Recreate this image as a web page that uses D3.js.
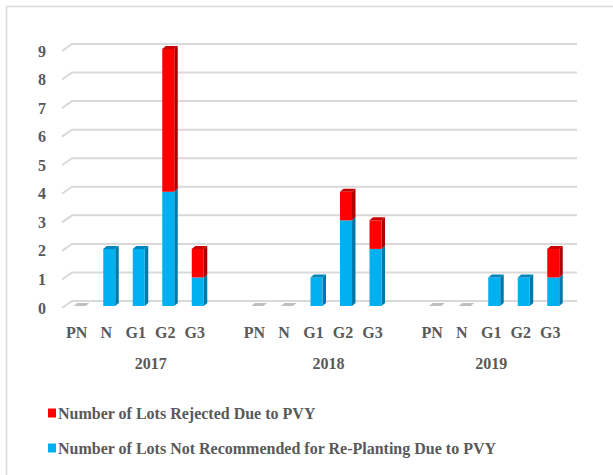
<!DOCTYPE html>
<html>
<head>
<meta charset="utf-8">
<script src="https://cdn.jsdelivr.net/npm/d3@7"></script>
<style>
  body { margin: 0; background: #fff; }
  text { font-family: "Liberation Serif", "Times New Roman", serif; font-weight: bold; fill: #595959; }
</style>
</head>
<body>
<svg id="svg"></svg>
<script>
const width = 613, height = 475;

// data
const years = ["2017", "2018", "2019"];
const grades = ["PN", "N", "G1", "G2", "G3"];
const notRecommended = [
  [0, 2, 2, 4, 1],
  [0, 0, 1, 3, 2],
  [0, 0, 1, 1, 1]
];
const rejected = [
  [0, 0, 0, 5, 1],
  [0, 0, 0, 1, 1],
  [0, 0, 0, 0, 1]
];
const yTicks = [0, 1, 2, 3, 4, 5, 6, 7, 8, 9];
const seriesNames = ["Number of Lots Rejected Due to PVY", "Number of Lots Not Recommended for Re-Planting Due to PVY"];

const blue = {front: "#00B0F0", side: "#0079A8", top: "#0086BA"};
const red = {front: "#FF0000", side: "#B00000", top: "#C80000"};

// 3d offsets
const floorDx = 10, floorDy = -7;   // depth of the floor
const barOffX = 3, barOffY = -2;    // bar front relative to floor front
const barDx = 3.5, barDy = -3;      // bar own depth
const barW = 12;

const svg = d3.select("#svg").attr("width", width).attr("height", height);

// frame
svg.append("rect")
  .attr("x", 6.5).attr("y", 6.5)
  .attr("width", 640).attr("height", 500)
  .attr("fill", "none").attr("stroke", "#D9D9D9").attr("stroke-width", 1.5);

const x0 = d3.scaleBand().domain(years).range([62, 565]).paddingInner(0.17).paddingOuter(0);
const x1 = d3.scaleBand().domain(grades).range([0, x0.bandwidth()]);
const y = d3.scaleLinear().domain([0, 9]).range([308, 51]);

// gridlines (front diagonal + back line)
const grid = svg.append("g");
yTicks.forEach(v => {
  grid.append("path")
    .attr("d", `M62,${y(v)} L${62 + floorDx},${y(v) + floorDy} L577,${y(v) + floorDy}`)
    .attr("fill", "none")
    .attr("stroke", "#D9D9D9")
    .attr("stroke-width", 2);
});

// y labels
svg.append("g").selectAll("text")
  .data(yTicks)
  .join("text")
  .attr("x", 46)
  .attr("y", d => y(d))
  .attr("dy", "0.35em")
  .attr("text-anchor", "end")
  .attr("font-size", 16)
  .text(d => d);

// bars
const bars = [];
years.forEach((yr, i) => {
  grades.forEach((g, j) => {
    const cx = x0(yr) + x1(g) + x1.bandwidth() / 2;
    bars.push({cx, lo: 0, hi: notRecommended[i][j], c: blue, top: rejected[i][j] === 0});
    if (rejected[i][j] > 0) {
      bars.push({cx, lo: notRecommended[i][j], hi: notRecommended[i][j] + rejected[i][j], c: red, top: true});
    }
  });
});

const barG = svg.append("g");
bars.forEach(b => {
  const xl = b.cx - barW / 2 + barOffX, xr = xl + barW;
  const yt = y(b.hi) + barOffY, yb = y(b.lo) + barOffY;
  if (b.hi === 0) {
    // empty bar: only a flat grey top
    barG.append("path")
      .attr("d", `M${xl},${yb} L${xr},${yb} L${xr + barDx},${yb + barDy} L${xl + barDx},${yb + barDy}Z`)
      .attr("fill", "#BFBFBF");
    return;
  }
  barG.append("path")
    .attr("d", `M${xr},${yb} L${xr + barDx},${yb + barDy} L${xr + barDx},${yt + barDy} L${xr},${yt}Z`)
    .attr("fill", b.c.side);
  barG.append("rect")
    .attr("x", xl).attr("y", yt)
    .attr("width", barW).attr("height", yb - yt)
    .attr("fill", b.c.front);
  if (b.top) {
    barG.append("path")
      .attr("d", `M${xl},${yt} L${xr},${yt} L${xr + barDx},${yt + barDy} L${xl + barDx},${yt + barDy}Z`)
      .attr("fill", b.c.top);
  }
});

// category labels
years.forEach((yr, i) => {
  svg.append("g").selectAll("text")
    .data(grades)
    .join("text")
    .attr("x", d => x0(yr) + x1(d) + x1.bandwidth() / 2)
    .attr("y", 332)
    .attr("dy", "0.35em")
    .attr("text-anchor", "middle")
    .attr("font-size", 16)
    .text(d => d);
  // year label spans its group plus the gap after it (last group has no gap)
  const span = i < years.length - 1 ? x0.step() : x0.bandwidth();
  svg.append("text")
    .attr("x", x0(yr) + span / 2)
    .attr("y", 363)
    .attr("dy", "0.35em")
    .attr("text-anchor", "middle")
    .attr("font-size", 16)
    .text(yr);
});

// legend
const legend = svg.append("g");
[red.front, blue.front].forEach((c, i) => {
  const ly = 413 + i * 35;
  legend.append("rect")
    .attr("x", 48).attr("y", ly - 4.5)
    .attr("width", 8).attr("height", 9)
    .attr("fill", c);
  legend.append("text")
    .attr("x", 58).attr("y", ly)
    .attr("dy", "0.35em")
    .attr("font-size", 16)
    .text(seriesNames[i]);
});
</script>
</body>
</html>
